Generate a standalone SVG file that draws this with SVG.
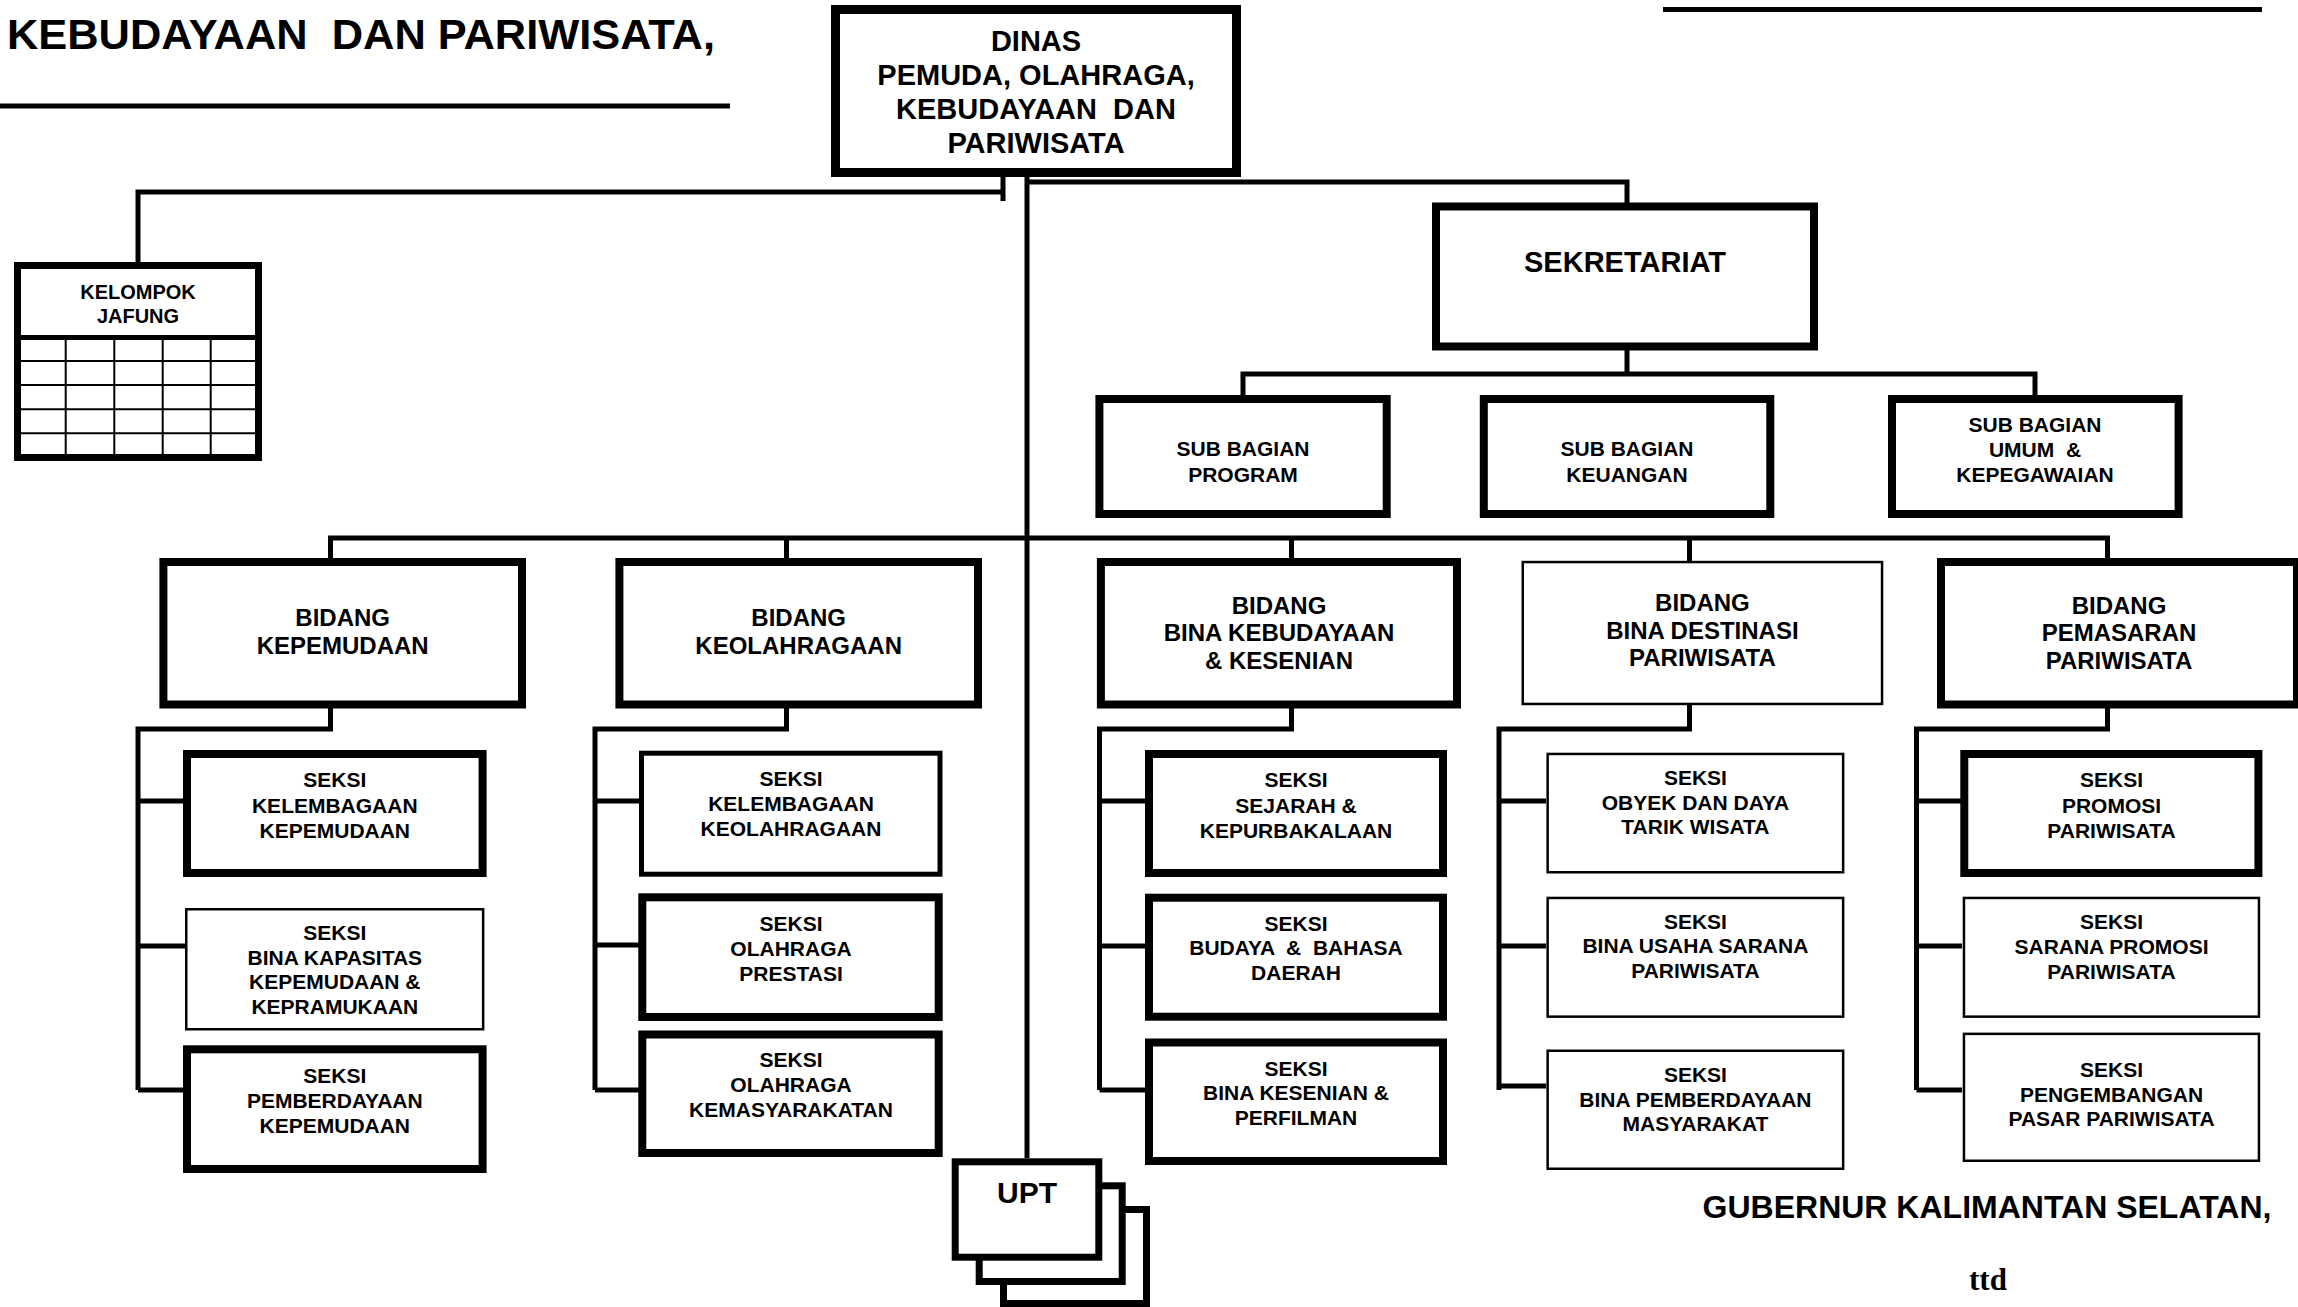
<svg xmlns="http://www.w3.org/2000/svg" width="2298" height="1307" viewBox="0 0 2298 1307" xml:space="preserve">
<style>
.bg{fill:#fff}
.b8{fill:#fff;stroke:#000;stroke-width:8}
.b9{fill:#fff;stroke:#000;stroke-width:9}
.b7{fill:#fff;stroke:#000;stroke-width:7}
.b5{fill:#fff;stroke:#000;stroke-width:5}
.b2{fill:#fff;stroke:#000;stroke-width:2.5}
.ln{fill:none;stroke:#000;stroke-width:5}
.gl{fill:none;stroke:#000;stroke-width:2}
text{font-family:"Liberation Sans",Arial,sans-serif;font-weight:bold;fill:#000;text-anchor:middle;white-space:pre}
.t42{font-size:42px;text-anchor:start}
.t32{font-size:32px}
.t30{font-size:30px}
.t29{font-size:29px}
.t28{font-size:29px}
.t24{font-size:24px}
.t21{font-size:21px}
.t20{font-size:20px}
.ttd{font-family:"Liberation Serif","Times New Roman",serif;font-size:31px}
</style>
<rect class="bg" x="0" y="0" width="2298" height="1307"/>

<g id="header">
<text class="t42" x="7" y="49" textLength="708" lengthAdjust="spacingAndGlyphs">KEBUDAYAAN  DAN PARIWISATA,</text>
<line class="ln" x1="0" y1="106" x2="730" y2="106"/>
<line class="ln" x1="1663" y1="9.5" x2="2262" y2="9.5"/>
</g>

<g id="connectors">
<path class="ln" d="M138,262 V192 H1003"/>
<path class="ln" d="M1003,177 V201"/>
<path class="ln" d="M1027,177 V1158"/>
<path class="ln" d="M1027,182 H1627 V203"/>
<path class="ln" d="M1627,350 V374"/>
<path class="ln" d="M1243,395 V374 H2035 V395"/>
<path class="ln" d="M330.5,558 V538 H2107.5 V558"/>
<path class="ln" d="M786.5,538 V558"/>
<path class="ln" d="M1291.5,538 V558"/>
<path class="ln" d="M1689.5,538 V561"/>
<path class="ln" d="M330.5,708 V729 H138 V1090"/>
<path class="ln" d="M138,801 H183 M138,946 H185 M138,1090 H183"/>
<path class="ln" d="M786.5,708 V729 H595 V1090"/>
<path class="ln" d="M595,801 H639 M595,945 H639 M595,1090 H639"/>
<path class="ln" d="M1291.5,708 V729 H1099.5 V1090"/>
<path class="ln" d="M1099.5,801 H1145 M1099.5,946 H1145 M1099.5,1090 H1145"/>
<path class="ln" d="M1689.5,705 V729 H1499 V1090"/>
<path class="ln" d="M1499,801 H1546 M1499,946 H1546 M1499,1086 H1546"/>
<path class="ln" d="M2107.5,708 V729 H1916.5 V1090"/>
<path class="ln" d="M1916.5,801 H1962 M1916.5,946 H1962 M1916.5,1090 H1962"/>
</g>

<g id="dinas">
<rect class="b9" x="835.5" y="9.5" width="401" height="163"/>
<text class="t28"><tspan x="1036" y="51">DINAS</tspan><tspan x="1036" y="85">PEMUDA, OLAHRAGA,</tspan><tspan x="1036" y="119">KEBUDAYAAN  DAN</tspan><tspan x="1036" y="153">PARIWISATA</tspan></text>
</g>

<g id="kelompok-jafung">
<rect class="b7" x="17.5" y="265.5" width="241" height="192"/>
<line class="ln" x1="14" y1="337.5" x2="262" y2="337.5"/>
<path class="gl" d="M65.7,340 V454 M114.3,340 V454 M162.7,340 V454 M210.7,340 V454 M21,361 H255 M21,385 H255 M21,409.3 H255 M21,433.3 H255"/>
<text class="t20"><tspan x="138" y="299">KELOMPOK</tspan><tspan x="138" y="323">JAFUNG</tspan></text>
</g>

<g id="sekretariat">
<rect class="b8" x="1436" y="206.5" width="378" height="140"/>
<text class="t29" x="1625" y="272">SEKRETARIAT</text>
</g>

<g id="subbag-program">
<rect class="b8" x="1099.4" y="399" width="287.3" height="115"/>
<text class="t21"><tspan x="1243" y="456">SUB BAGIAN</tspan><tspan x="1243" y="482">PROGRAM</tspan></text>
</g>
<g id="subbag-keuangan">
<rect class="b8" x="1483.8" y="399" width="286.5" height="115"/>
<text class="t21"><tspan x="1627" y="456">SUB BAGIAN</tspan><tspan x="1627" y="482">KEUANGAN</tspan></text>
</g>
<g id="subbag-umum">
<rect class="b8" x="1892" y="399" width="286.6" height="115"/>
<text class="t21"><tspan x="2035" y="431.5">SUB BAGIAN</tspan><tspan x="2035" y="456.5">UMUM  &amp;</tspan><tspan x="2035" y="481.5">KEPEGAWAIAN</tspan></text>
</g>

<g id="bidang-kepemudaan">
<rect class="b8" x="163.4" y="562" width="358.6" height="142.5"/>
<text class="t24"><tspan x="342.7" y="626">BIDANG</tspan><tspan x="342.7" y="654">KEPEMUDAAN</tspan></text>
</g>
<g id="bidang-keolahragaan">
<rect class="b8" x="619.4" y="562" width="358.6" height="142.5"/>
<text class="t24"><tspan x="798.7" y="626">BIDANG</tspan><tspan x="798.7" y="654">KEOLAHRAGAAN</tspan></text>
</g>
<g id="bidang-kebudayaan">
<rect class="b8" x="1100.9" y="562" width="356.1" height="142.5"/>
<text class="t24"><tspan x="1279" y="613.5">BIDANG</tspan><tspan x="1279" y="641">BINA KEBUDAYAAN</tspan><tspan x="1279" y="668.5">&amp; KESENIAN</tspan></text>
</g>
<g id="bidang-destinasi">
<rect class="b2" x="1522.75" y="562.05" width="359.3" height="141.9"/>
<text class="t24"><tspan x="1702.4" y="611">BIDANG</tspan><tspan x="1702.4" y="638.5">BINA DESTINASI</tspan><tspan x="1702.4" y="666">PARIWISATA</tspan></text>
</g>
<g id="bidang-pemasaran">
<rect class="b8" x="1941" y="562" width="356" height="142.5"/>
<text class="t24"><tspan x="2119" y="613.5">BIDANG</tspan><tspan x="2119" y="641">PEMASARAN</tspan><tspan x="2119" y="668.5">PARIWISATA</tspan></text>
</g>

<g id="seksi-kelembagaan-kepemudaan">
<rect class="b8" x="187" y="754" width="295.6" height="119"/>
<text class="t21"><tspan x="334.8" y="787">SEKSI</tspan><tspan x="334.8" y="812.5">KELEMBAGAAN</tspan><tspan x="334.8" y="838">KEPEMUDAAN</tspan></text>
</g>
<g id="seksi-bina-kapasitas">
<rect class="b2" x="186.25" y="909.25" width="296.9" height="120"/>
<text class="t21"><tspan x="334.8" y="940">SEKSI</tspan><tspan x="334.8" y="964.5">BINA KAPASITAS</tspan><tspan x="334.8" y="989">KEPEMUDAAN &amp;</tspan><tspan x="334.8" y="1013.5">KEPRAMUKAAN</tspan></text>
</g>
<g id="seksi-pemberdayaan-kepemudaan">
<rect class="b8" x="187" y="1049.3" width="295.6" height="119.7"/>
<text class="t21"><tspan x="334.8" y="1083">SEKSI</tspan><tspan x="334.8" y="1108">PEMBERDAYAAN</tspan><tspan x="334.8" y="1132.5">KEPEMUDAAN</tspan></text>
</g>

<g id="seksi-kelembagaan-keolahragaan">
<rect class="b5" x="641.5" y="753.2" width="298.5" height="121"/>
<text class="t21"><tspan x="791" y="786">SEKSI</tspan><tspan x="791" y="811">KELEMBAGAAN</tspan><tspan x="791" y="835.5">KEOLAHRAGAAN</tspan></text>
</g>
<g id="seksi-olahraga-prestasi">
<rect class="b8" x="642.3" y="897.3" width="296.4" height="119.7"/>
<text class="t21"><tspan x="791" y="930.5">SEKSI</tspan><tspan x="791" y="955.5">OLAHRAGA</tspan><tspan x="791" y="981">PRESTASI</tspan></text>
</g>
<g id="seksi-olahraga-kemasyarakatan">
<rect class="b8" x="642.3" y="1034.5" width="296.4" height="118.5"/>
<text class="t21"><tspan x="791" y="1067">SEKSI</tspan><tspan x="791" y="1091.5">OLAHRAGA</tspan><tspan x="791" y="1117">KEMASYARAKATAN</tspan></text>
</g>

<g id="seksi-sejarah">
<rect class="b8" x="1149" y="754" width="294" height="119"/>
<text class="t21"><tspan x="1296" y="787">SEKSI</tspan><tspan x="1296" y="812.5">SEJARAH &amp;</tspan><tspan x="1296" y="838">KEPURBAKALAAN</tspan></text>
</g>
<g id="seksi-budaya">
<rect class="b8" x="1149" y="897.7" width="294" height="119"/>
<text class="t21"><tspan x="1296" y="930.5">SEKSI</tspan><tspan x="1296" y="955">BUDAYA  &amp;  BAHASA</tspan><tspan x="1296" y="980">DAERAH</tspan></text>
</g>
<g id="seksi-kesenian">
<rect class="b8" x="1149" y="1042.5" width="294" height="118.5"/>
<text class="t21"><tspan x="1296" y="1075.5">SEKSI</tspan><tspan x="1296" y="1100">BINA KESENIAN &amp;</tspan><tspan x="1296" y="1124.5">PERFILMAN</tspan></text>
</g>

<g id="seksi-obyek">
<rect class="b2" x="1547.65" y="753.95" width="295.5" height="118.3"/>
<text class="t21"><tspan x="1695.4" y="784.5">SEKSI</tspan><tspan x="1695.4" y="809.5">OBYEK DAN DAYA</tspan><tspan x="1695.4" y="834">TARIK WISATA</tspan></text>
</g>
<g id="seksi-usaha-sarana">
<rect class="b2" x="1547.65" y="897.95" width="295.5" height="118.7"/>
<text class="t21"><tspan x="1695.4" y="928.5">SEKSI</tspan><tspan x="1695.4" y="953">BINA USAHA SARANA</tspan><tspan x="1695.4" y="978">PARIWISATA</tspan></text>
</g>
<g id="seksi-pemberdayaan-masyarakat">
<rect class="b2" x="1547.65" y="1050.75" width="295.5" height="118"/>
<text class="t21"><tspan x="1695.4" y="1082">SEKSI</tspan><tspan x="1695.4" y="1106.5">BINA PEMBERDAYAAN</tspan><tspan x="1695.4" y="1130.5">MASYARAKAT</tspan></text>
</g>

<g id="seksi-promosi">
<rect class="b8" x="1964.3" y="754" width="294.1" height="119"/>
<text class="t21"><tspan x="2111.5" y="787">SEKSI</tspan><tspan x="2111.5" y="812.5">PROMOSI</tspan><tspan x="2111.5" y="838">PARIWISATA</tspan></text>
</g>
<g id="seksi-sarana-promosi">
<rect class="b2" x="1963.95" y="897.95" width="295" height="118.7"/>
<text class="t21"><tspan x="2111.5" y="929">SEKSI</tspan><tspan x="2111.5" y="953.5">SARANA PROMOSI</tspan><tspan x="2111.5" y="978.5">PARIWISATA</tspan></text>
</g>
<g id="seksi-pengembangan">
<rect class="b2" x="1963.95" y="1033.85" width="295" height="126.9"/>
<text class="t21"><tspan x="2111.5" y="1076.5">SEKSI</tspan><tspan x="2111.5" y="1101.5">PENGEMBANGAN</tspan><tspan x="2111.5" y="1126">PASAR PARIWISATA</tspan></text>
</g>

<g id="upt">
<rect class="b7" x="1003.5" y="1209.5" width="143" height="94"/>
<rect class="b7" x="979.2" y="1185.8" width="143" height="95.7"/>
<rect class="b7" x="955.2" y="1161.8" width="143.6" height="95.4"/>
<text class="t30" x="1027" y="1203">UPT</text>
</g>

<g id="signature">
<text class="t32" x="1987" y="1218">GUBERNUR KALIMANTAN SELATAN,</text>
<text class="ttd" x="1988" y="1290">ttd</text>
</g>
</svg>
